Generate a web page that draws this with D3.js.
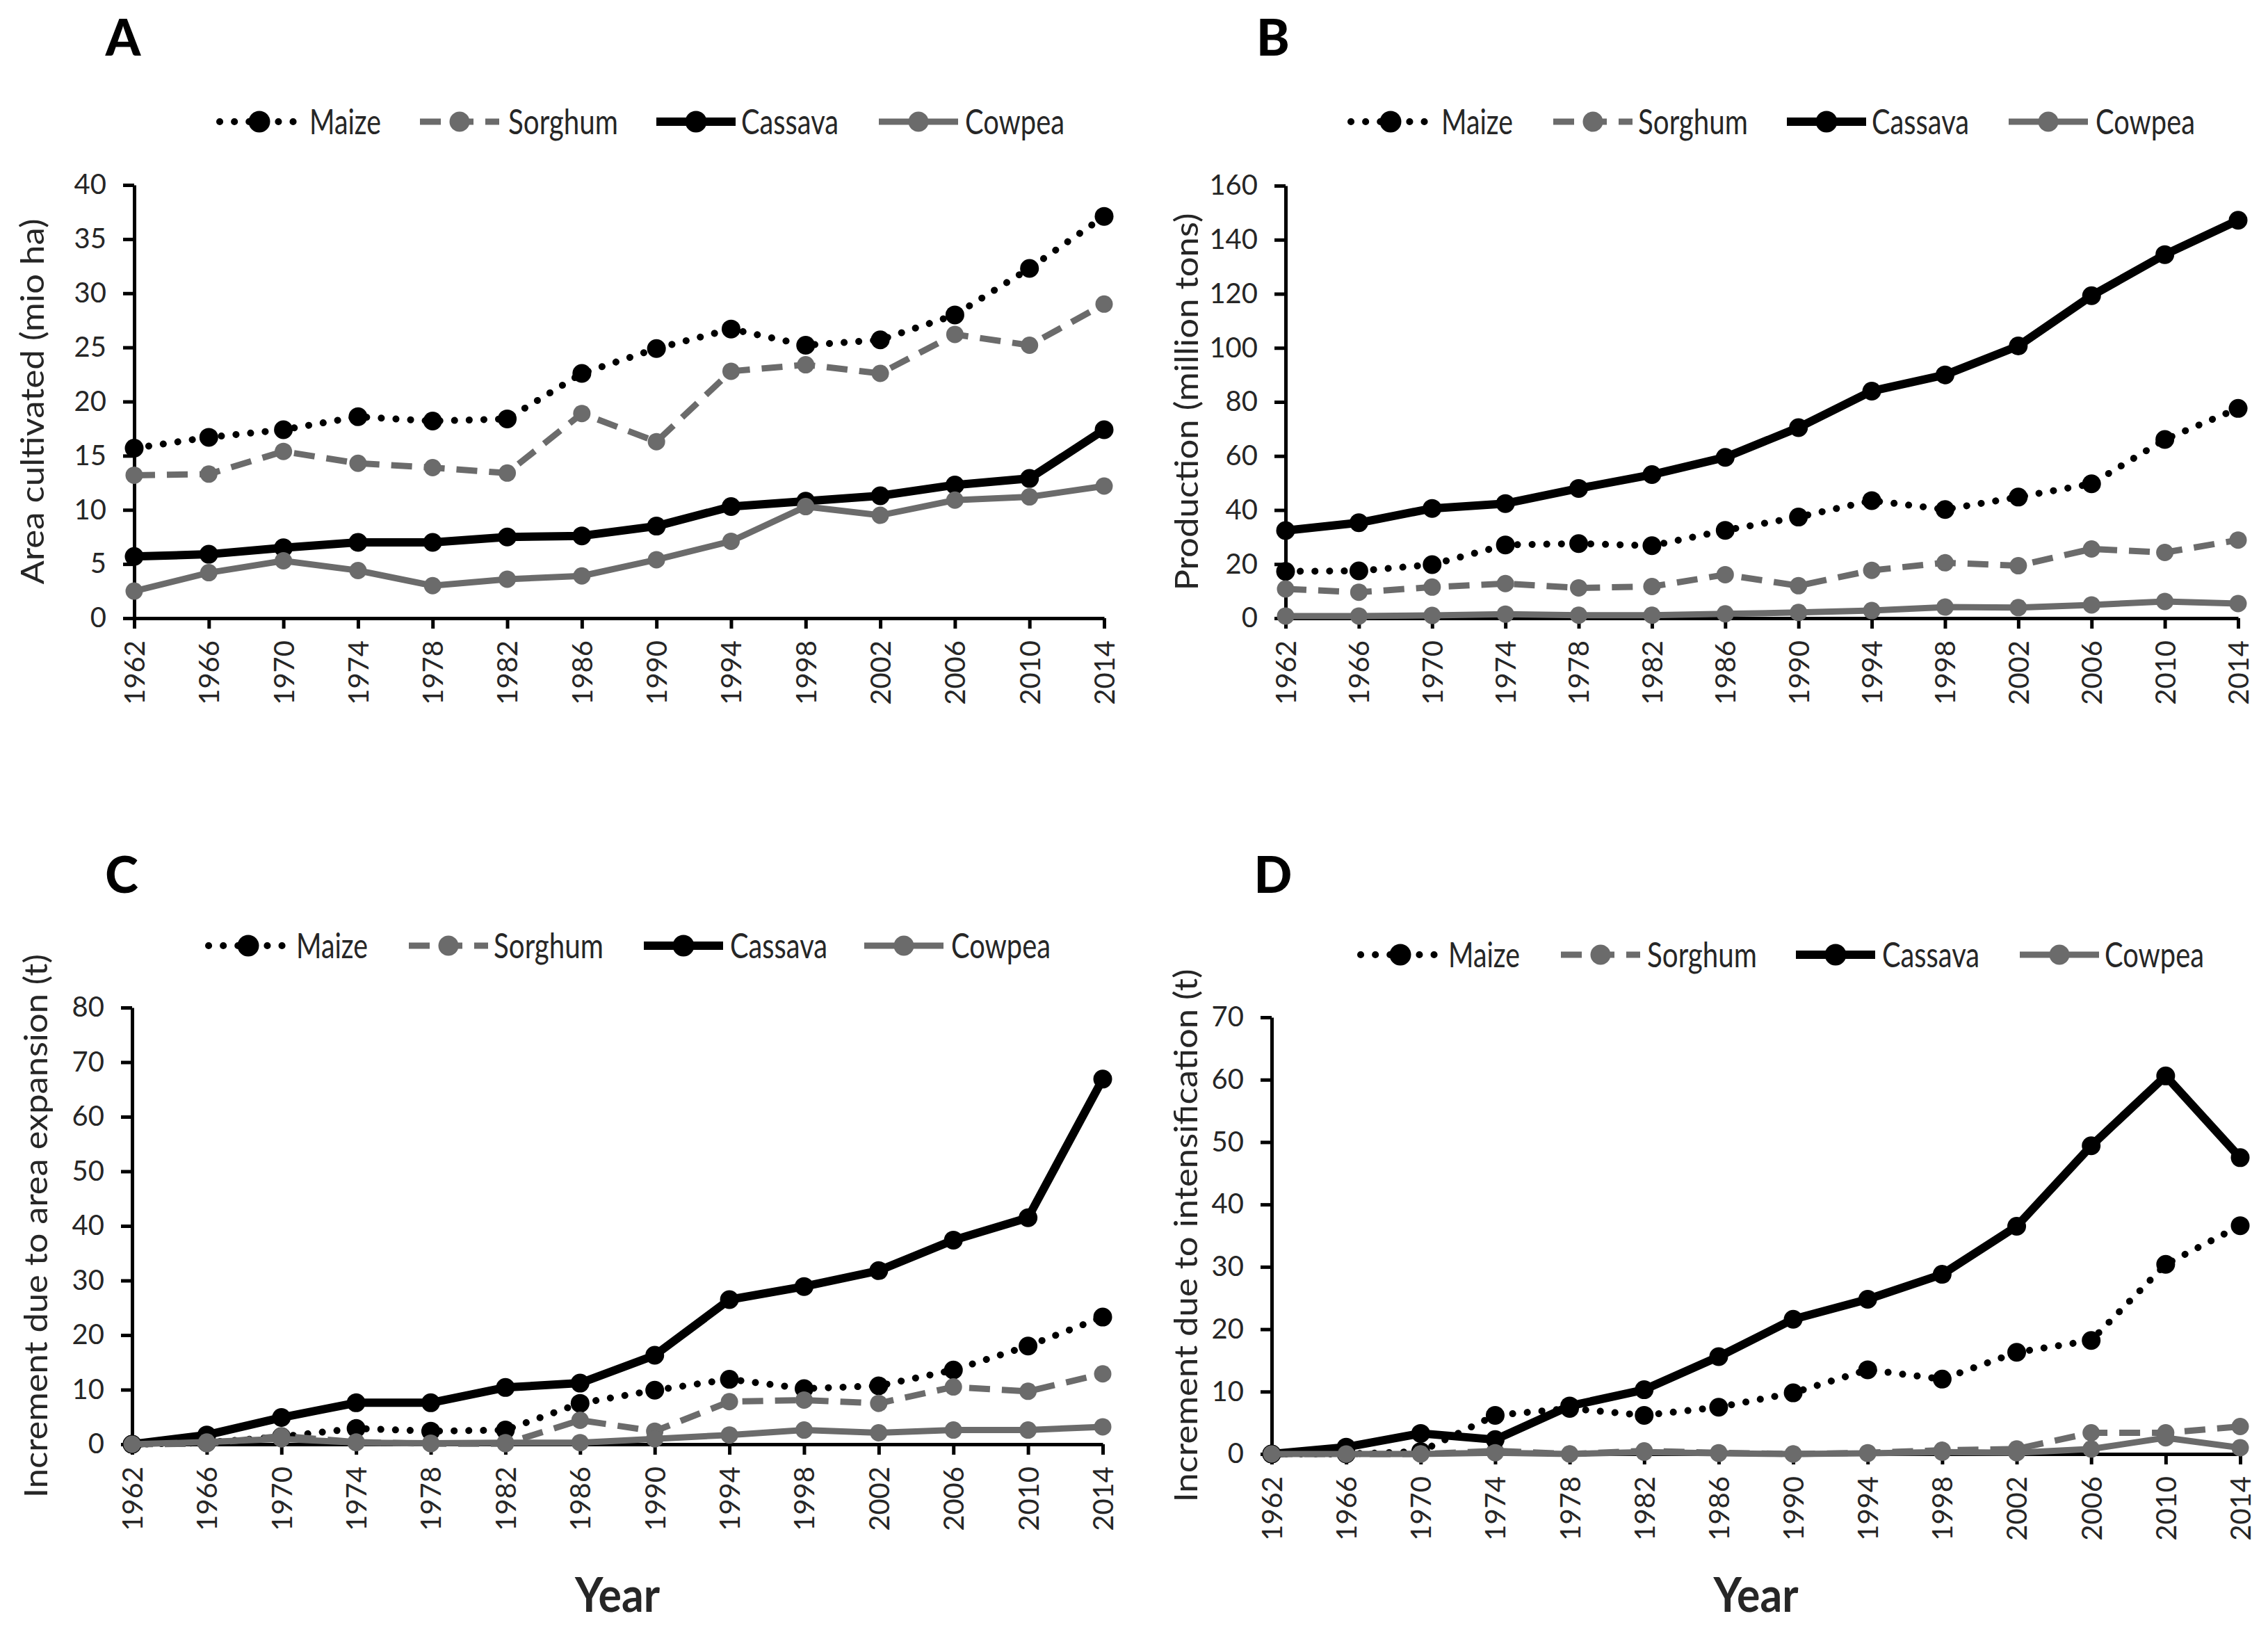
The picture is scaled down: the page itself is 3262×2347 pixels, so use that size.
<!DOCTYPE html>
<html>
<head>
<meta charset="utf-8">
<script src="https://cdn.jsdelivr.net/npm/d3@7"></script>
<style>
  html, body { margin: 0; padding: 0; background: #fff; }
  svg { display: block; }
</style>
</head>
<body>
<div id="chart"></div>
<script>
// Jahre und Kulturen
const years = [1962, 1966, 1970, 1974, 1978, 1982, 1986, 1990, 1994, 1998, 2002, 2006, 2010, 2014];
const crops = ["Maize", "Sorghum", "Cassava", "Cowpea"];

// A: Anbaufläche (mio ha)
const areaMaize   = [15.7, 16.7, 17.4, 18.6, 18.2, 18.4, 22.6, 24.9, 26.7, 25.2, 25.7, 28.0, 32.3, 37.1];
const areaSorghum = [13.2, 13.3, 15.4, 14.3, 13.9, 13.4, 18.9, 16.3, 22.8, 23.4, 22.6, 26.2, 25.2, 29.0];
const areaCassava = [5.7, 5.9, 6.5, 7.0, 7.0, 7.5, 7.6, 8.5, 10.3, 10.8, 11.3, 12.3, 12.9, 17.4];
const areaCowpea  = [2.5, 4.2, 5.3, 4.4, 3.0, 3.6, 3.9, 5.4, 7.1, 10.3, 9.5, 10.9, 11.2, 12.2];

// B: Produktion (million tons)
const prodMaize   = [17.3, 17.5, 19.8, 27.1, 27.6, 26.8, 32.5, 37.4, 43.5, 40.2, 44.8, 49.7, 66.1, 77.6];
const prodSorghum = [10.8, 9.6, 11.5, 12.8, 11.2, 11.7, 16.1, 12.0, 17.7, 20.5, 19.4, 25.6, 24.3, 28.9];
const prodCassava = [32.4, 35.3, 40.6, 42.4, 48.0, 53.1, 59.5, 70.5, 84.0, 90.0, 100.7, 119.3, 134.5, 147.2];
const prodCowpea  = [0.8, 0.8, 1.0, 1.5, 1.1, 1.1, 1.6, 2.1, 2.8, 4.1, 3.9, 4.9, 6.2, 5.4];

// C: Zuwachs durch Flächenausdehnung (t)
const expMaize    = [0, 0.3, 1.4, 2.9, 2.4, 2.6, 7.5, 9.9, 11.9, 10.2, 10.7, 13.6, 18.0, 23.3];
const expSorghum  = [0, 0.1, 1.5, 0.4, 0.1, 0.1, 4.4, 2.4, 7.8, 8.1, 7.5, 10.5, 9.7, 12.9];
const expCassava  = [0, 1.7, 4.9, 7.6, 7.6, 10.4, 11.2, 16.3, 26.5, 28.9, 31.8, 37.4, 41.5, 66.9];
const expCowpea   = [0, 0.4, 1.0, 0.3, 0.2, 0.3, 0.3, 1.0, 1.7, 2.6, 2.1, 2.6, 2.6, 3.2];

// D: Zuwachs durch Intensivierung (t)
const intMaize    = [0, 0, 0.4, 6.2, 7.3, 6.2, 7.5, 9.8, 13.5, 12.0, 16.3, 18.2, 30.4, 36.6];
const intSorghum  = [0, 0, 0, 0.5, 0, 0.5, 0.2, 0, 0.2, 0.6, 0.8, 3.4, 3.4, 4.4];
const intCassava  = [0, 1.1, 3.3, 2.3, 7.7, 10.3, 15.6, 21.6, 24.8, 28.8, 36.5, 49.4, 60.6, 47.5];
const intCowpea   = [0, 0, 0, 0.2, 0, 0.3, 0.1, 0, 0.1, 0.3, 0.2, 0.8, 2.6, 1.0];

const GRAY = "#6b6b6b";
const TEXT = "#262626";

// Linienstile je Kultur
const styles = {
  Maize:   { color: "#000", width: 10, dash: "0.1 21", cap: "round", r: 13.5 },
  Sorghum: { color: GRAY,   width: 9,  dash: "30 17", cap: "butt",  r: 12.5 },
  Cassava: { color: "#000", width: 12, dash: null,    cap: "butt",  r: 13.5 },
  Cowpea:  { color: GRAY,   width: 9,  dash: null,    cap: "butt",  r: 12.5 }
};

const width = 3262, height = 2347;

const svg = d3.select("#chart").append("svg")
  .attr("width", width)
  .attr("height", height)
  .style("font-family", "Lato, 'Open Sans', sans-serif");

// Panel-Layout
const panels = [
  { letter: "A", lx: 177, ly: 80, x0: 193, x1: 1588, yb: 889, yt: 266, max: 40, step: 5,
    title: "Area cultivated (mio ha)", tx: 47, tlen: 526,
    legY: 175, legLine: [316, 604, 944, 1264], legText: [445, 731, 1066, 1388],
    series: [areaMaize, areaSorghum, areaCassava, areaCowpea], xTitle: false },
  { letter: "B", lx: 1831, ly: 80, x0: 1849, x1: 3219, yb: 889, yt: 267, max: 160, step: 20,
    title: "Production (million tons)", tx: 1707, tlen: 543,
    legY: 175, legLine: [1943, 2234, 2570, 2889], legText: [2073, 2356, 2692, 3014],
    series: [prodMaize, prodSorghum, prodCassava, prodCowpea], xTitle: false },
  { letter: "C", lx: 175, ly: 1284, x0: 190, x1: 1586, yb: 2077, yt: 1449, max: 80, step: 10,
    title: "Increment due to area expansion (t)", tx: 52, tlen: 782,
    legY: 1360, legLine: [300, 588, 926, 1243], legText: [426, 710, 1050, 1368],
    series: [expMaize, expSorghum, expCassava, expCowpea], xTitle: true },
  { letter: "D", lx: 1831, ly: 1284, x0: 1829, x1: 3222, yb: 2091, yt: 1463, max: 70, step: 10,
    title: "Increment due to intensification (t)", tx: 1706, tlen: 767,
    legY: 1373, legLine: [1957, 2245, 2583, 2905], legText: [2083, 2369, 2707, 3027],
    series: [intMaize, intSorghum, intCassava, intCowpea], xTitle: true }
];

const legendTextLen = { Maize: 103, Sorghum: 158, Cassava: 140, Cowpea: 143 };

panels.forEach(p => drawPanel(p));

function applyStyle(sel, st) {
  sel.attr("fill", "none")
     .attr("stroke", st.color)
     .attr("stroke-width", st.width)
     .attr("stroke-linecap", st.cap)
     .attr("stroke-linejoin", "round");
  if (st.dash) sel.attr("stroke-dasharray", st.dash);
}

function drawPanel(p) {
  const g = svg.append("g");

  const x = d3.scaleLinear().domain([years[0], years[years.length - 1]]).range([p.x0, p.x1]);
  const y = d3.scaleLinear().domain([0, p.max]).range([p.yb, p.yt]);

  // Panel-Buchstabe
  g.append("text")
   .attr("x", p.lx).attr("y", p.ly)
   .attr("text-anchor", "middle")
   .attr("font-size", 72).attr("font-weight", 900)
   .attr("fill", "#000")
   .text(p.letter);

  // Y-Achse
  const yAxis = g.append("g")
    .attr("transform", `translate(${p.x0},0)`)
    .call(d3.axisLeft(y).tickValues(d3.range(0, p.max + p.step / 2, p.step))
      .tickSize(16).tickSizeOuter(0).tickPadding(24));
  yAxis.select(".domain").attr("stroke", "#000").attr("stroke-width", 5);
  yAxis.selectAll(".tick line").attr("stroke", "#000").attr("stroke-width", 5);
  yAxis.selectAll(".tick text").attr("font-size", 40).attr("fill", TEXT)
       .attr("font-family", "Lato, sans-serif");

  // X-Achse
  const xAxis = g.append("g")
    .attr("transform", `translate(0,${p.yb})`)
    .call(d3.axisBottom(x).tickValues(years).tickFormat(d3.format("d"))
      .tickSize(15).tickSizeOuter(0));
  xAxis.select(".domain").attr("stroke", "#000").attr("stroke-width", 5);
  xAxis.selectAll(".tick line").attr("stroke", "#000").attr("stroke-width", 5);
  xAxis.selectAll(".tick text")
       .attr("font-size", 40).attr("fill", TEXT)
       .attr("font-family", "Lato, sans-serif")
       .attr("transform", "rotate(-90)")
       .attr("text-anchor", "end")
       .attr("x", -32).attr("y", 0).attr("dy", "0.36em");

  // Y-Achsentitel
  g.append("text")
   .attr("transform", `translate(${p.tx},${(p.yb + p.yt) / 2}) rotate(-90)`)
   .attr("text-anchor", "middle")
   .attr("dy", "0.35em")
   .attr("font-size", 46)
   .attr("fill", TEXT)
   .attr("textLength", p.tlen)
   .attr("lengthAdjust", "spacingAndGlyphs")
   .text(p.title);

  // X-Achsentitel
  if (p.xTitle) {
    g.append("text")
     .attr("x", (p.x0 + p.x1) / 2).attr("y", 2318)
     .attr("text-anchor", "middle")
     .attr("font-size", 68).attr("font-weight", 700)
     .attr("fill", TEXT)
     .attr("textLength", 122)
     .attr("lengthAdjust", "spacingAndGlyphs")
     .text("Year");
  }

  // Linien und Marker
  const line = d3.line().x((d, i) => x(years[i])).y(d => y(d));
  crops.forEach((crop, k) => {
    const st = styles[crop];
    const values = p.series[k];
    applyStyle(g.append("path").datum(values).attr("d", line), st);
    g.append("g").selectAll("circle")
     .data(values)
     .enter().append("circle")
     .attr("cx", (d, i) => x(years[i]))
     .attr("cy", d => y(d))
     .attr("r", st.r)
     .attr("fill", st.color);
  });

  // Legende
  crops.forEach((crop, k) => {
    const st = styles[crop];
    const ls = p.legLine[k];
    applyStyle(g.append("line")
      .attr("x1", ls).attr("x2", ls + 114)
      .attr("y1", p.legY).attr("y2", p.legY), st);
    g.append("circle").attr("cx", ls + 57).attr("cy", p.legY).attr("r", st.r + 2).attr("fill", st.color);
    g.append("text")
     .attr("x", p.legText[k]).attr("y", p.legY)
     .attr("dy", "0.36em")
     .attr("font-size", 50)
     .attr("fill", TEXT)
     .attr("textLength", legendTextLen[crop])
     .attr("lengthAdjust", "spacingAndGlyphs")
     .text(crop);
  });
}
</script>
</body>
</html>
